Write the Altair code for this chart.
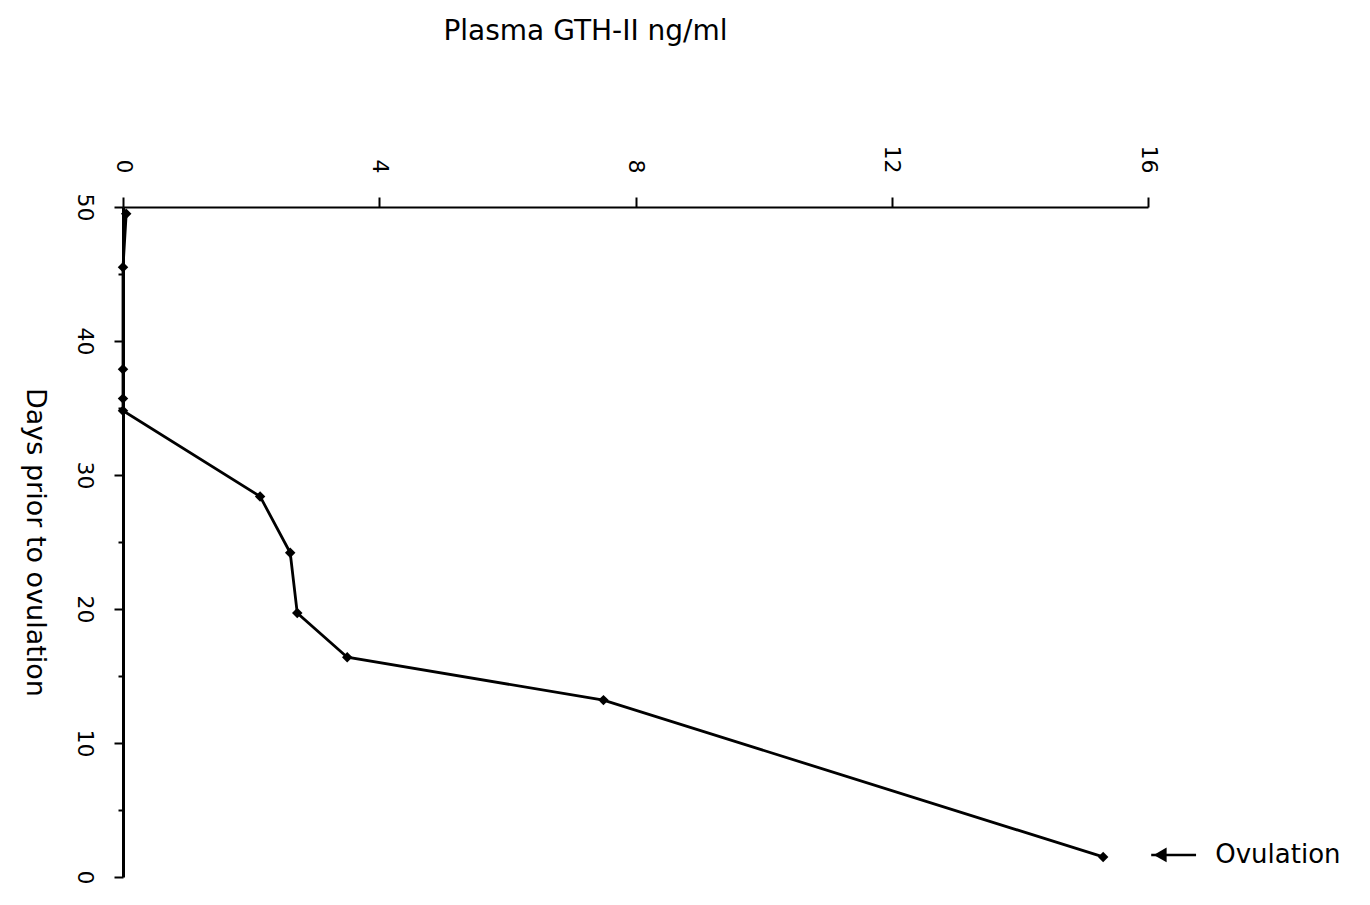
import altair as alt
import pandas as pd

days = [49.5, 45.5, 37.9, 35.7, 34.8, 28.4, 24.2, 19.7, 16.4, 13.2, 1.5]
gth = [0.05, 0.0, 0.0, 0.0, 0.0, 2.14, 2.61, 2.72, 3.5, 7.5, 15.3]

x_ticks = [0, 4, 8, 12, 16]
y_ticks = [0, 5, 10, 15, 20, 25, 30, 35, 40, 45, 50]

arrow_x = [16.05, 16.75]
arrow_y = [1.65, 1.65]
note_x = [17.05]
note_y = [1.65]
note_text = ["Ovulation"]

df = pd.DataFrame({"days": days, "gth": gth})
arrow_df = pd.DataFrame({"x": [arrow_x[0]], "x2": [arrow_x[1]], "y": [arrow_y[0]]})
head_df = pd.DataFrame({"x": [arrow_x[0] + 0.14], "y": [arrow_y[0]]})
note_df = pd.DataFrame({"x": note_x, "y": note_y, "t": note_text})

FONT = "DejaVu Sans"

xscale = alt.Scale(domain=[0, 16], nice=False, zero=False)
yscale = alt.Scale(domain=[0, 50], nice=False, zero=False)

xaxis = alt.Axis(
    orient="top", values=x_ticks, labelAngle=90, grid=False, format="d",
    title="Plasma GTH-II ng/ml", titleFontSize=28, titleFont=FONT, titleFontWeight="normal",
    titlePadding=100, titleX=462, labelFont=FONT, labelFontSize=22, labelColor="black",
    tickColor="black", domainColor="black", tickSize=10, domainWidth=2, tickWidth=2,
    labelPadding=24,
)
yaxis = alt.Axis(
    orient="left", values=y_ticks, labelAngle=90, grid=False,
    labelExpr="datum.value % 10 === 0 ? datum.label : ''",
    tickSize={"condition": {"test": "datum.value % 10 === 0", "value": 9}, "value": 5},
    title="Days prior to ovulation", titleAngle=90, titleFontSize=27, titleFont=FONT,
    titleFontWeight="normal", titlePadding=53, labelFont=FONT, labelFontSize=22,
    labelColor="black", tickColor="black", domainColor="black", domainWidth=3, tickWidth=2,
    labelPadding=20,
)

line = alt.Chart(df).mark_line(color="black", strokeWidth=2.8).encode(
    x=alt.X("gth:Q", scale=xscale, axis=xaxis),
    y=alt.Y("days:Q", scale=yscale, axis=yaxis),
    order="days:Q",
)
pts = alt.Chart(df).mark_point(shape="diamond", filled=True, color="black", size=110, opacity=1).encode(
    x=alt.X("gth:Q", scale=xscale),
    y=alt.Y("days:Q", scale=yscale),
)
arrow = alt.Chart(arrow_df).mark_rule(color="black", strokeWidth=2.5).encode(
    x=alt.X("x:Q", scale=xscale), x2="x2:Q", y=alt.Y("y:Q", scale=yscale)
)
head = alt.Chart(head_df).mark_point(shape="triangle-left", filled=True, color="black", size=220, opacity=1).encode(
    x=alt.X("x:Q", scale=xscale), y=alt.Y("y:Q", scale=yscale)
)
note = alt.Chart(note_df).mark_text(align="left", baseline="middle", font=FONT, fontSize=26, color="black").encode(
    x=alt.X("x:Q", scale=xscale), y=alt.Y("y:Q", scale=yscale), text="t:N"
)

chart = alt.layer(line, pts, arrow, head, note).properties(
    width=1025, height=670,
    background="white",
    autosize=alt.AutoSizeParams(type="none"),
    padding={"left": 115, "top": 199, "right": 210, "bottom": 10},
).configure_view(stroke=None)

chart.save("out.html", embed_options={"renderer": "svg", "actions": False})
